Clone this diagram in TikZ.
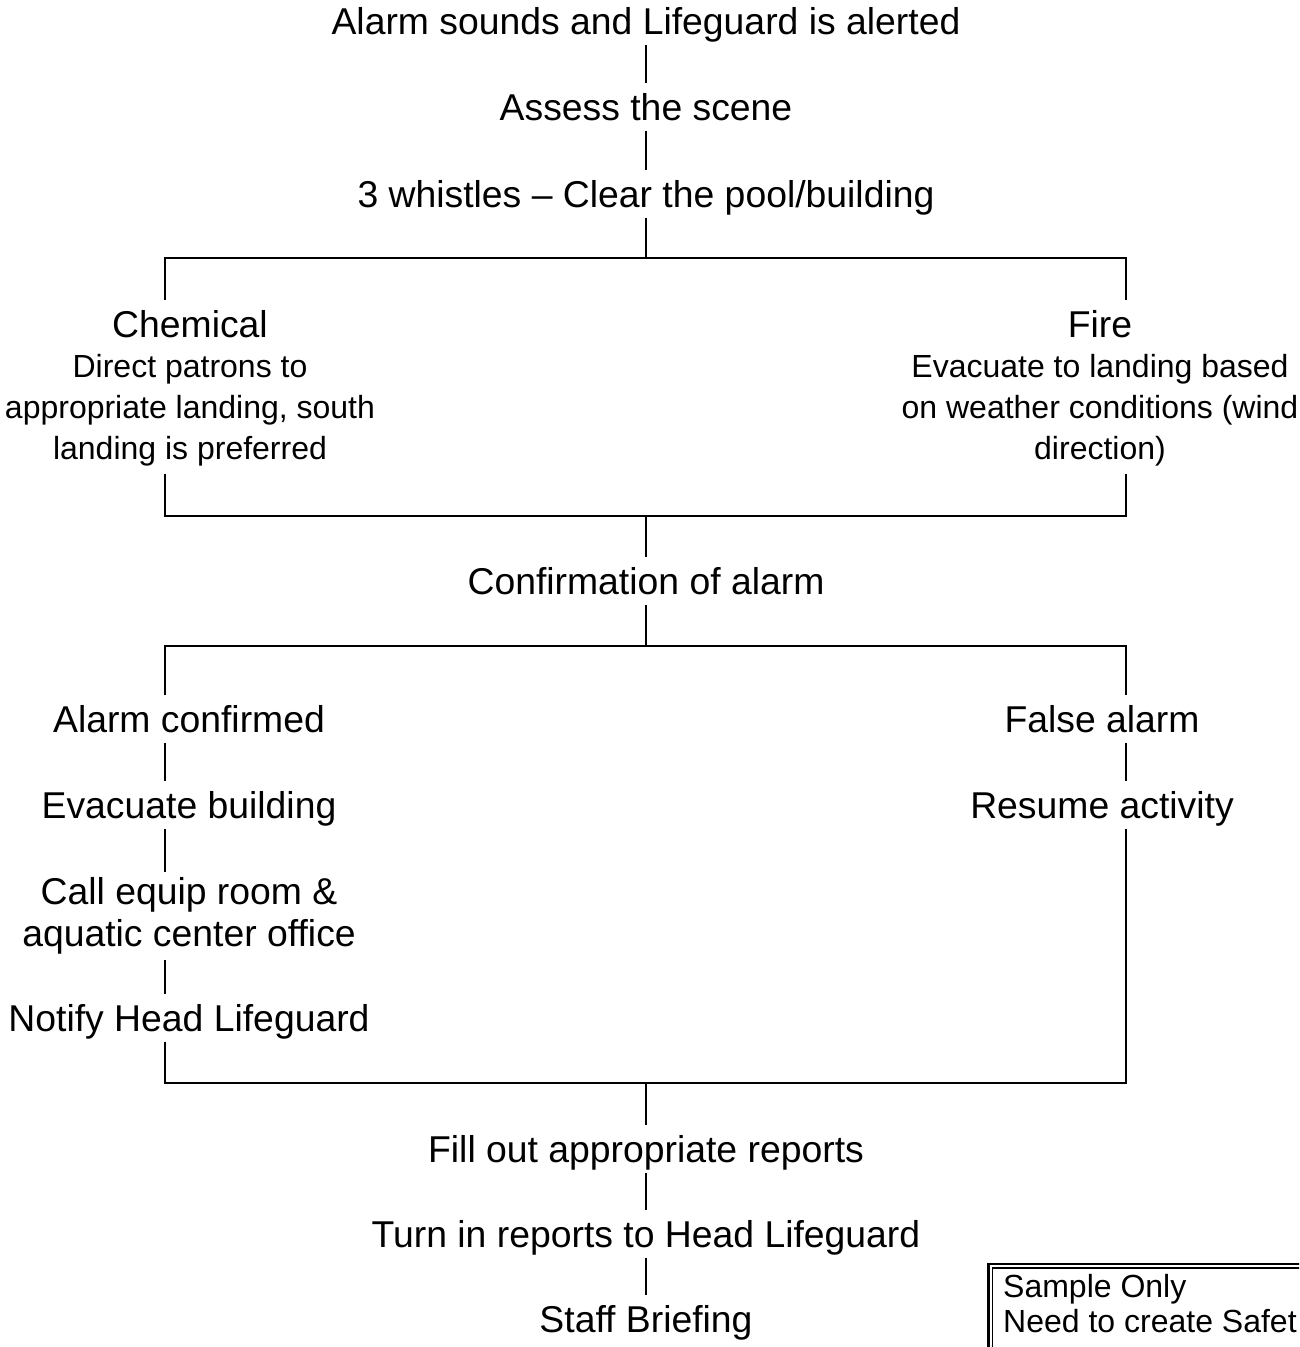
\documentclass[tikz,border=0pt]{standalone}
\usepackage{fontspec}
\setmainfont{Liberation Sans}
\usepackage{tikz}

\begin{document}
\begin{tikzpicture}[x=0.375pt,y=-0.375pt,line width=0.9pt]
\tikzstyle{stage}=[font=\fontsize{14}{15.75}\selectfont, anchor=base, inner xsep=0pt, inner ysep=3.5pt, text height=10pt, text depth=0pt]
\tikzstyle{note}=[font=\fontsize{12}{15.4}\selectfont, align=center, anchor=north, inner xsep=0pt, inner ysep=2.6pt]
\tikzstyle{stack}=[font=\fontsize{14}{15.75}\selectfont, align=center, anchor=north, inner xsep=0pt, inner ysep=1.7pt]
\tikzstyle{memo}=[font=\fontsize{12}{13.3}\selectfont, align=left, anchor=north west, inner sep=0pt]
\useasboundingbox (0,0) rectangle (1299,1347);
\clip (0,0) rectangle (1299,1347);

\node[stage] (alarm) at (646,34) {Alarm sounds and Lifeguard is alerted};
\node[stage] (assess) at (646,120) {Assess the scene};
\node[stage] (whistle) at (646,207) {3 whistles – Clear the pool/building};
\node[stage] (chem) at (190,337) {Chemical};
\node[note] (chemnote) at (190,346) {Direct patrons to\\appropriate landing, south\\landing is preferred};
\node[stage] (fire) at (1100,337) {Fire};
\node[note] (firenote) at (1100,346) {Evacuate to landing based\\on weather conditions (wind\\direction)};
\node[stage] (confirm) at (646,594) {Confirmation of alarm};
\node[stage] (yes) at (189,732) {Alarm confirmed};
\node[stage] (evac) at (189,818) {Evacuate building};
\node[stack] (call) at (189,872) {Call equip room \&\\aquatic center office};
\node[stage] (notify) at (189,1031) {Notify Head Lifeguard};
\node[stage] (false) at (1102,732) {False alarm};
\node[stage] (resume) at (1102,818) {Resume activity};
\node[stage] (fill) at (646,1162) {Fill out appropriate reports};
\node[stage] (turnin) at (646,1247) {Turn in reports to Head Lifeguard};
\node[stage] (brief) at (646,1332) {Staff Briefing};
\node[memo] (sample) at (1002,1273) {Sample Only\\Need to create Safet};

\coordinate (topL) at (165,258);
\coordinate (topR) at (1126,258);
\coordinate (midL) at (165,516);
\coordinate (midR) at (1126,516);
\coordinate (lowL) at (165,646);
\coordinate (lowR) at (1126,646);
\coordinate (botL) at (165,1083);
\coordinate (botR) at (1126,1083);

\draw (alarm) -- (assess);
\draw (assess) -- (whistle);
\draw (whistle) -- (whistle |- topL);
\draw (topL |- chem.north) -- (topL) -- (topR) -- (topR |- fire.north);
\draw (chemnote.south -| midL) -- (midL) -- (midR) -- (firenote.south -| midR);
\draw (confirm |- midL) -- (confirm);
\draw (confirm) -- (confirm |- lowL);
\draw (lowL |- yes.north) -- (lowL) -- (lowR) -- (lowR |- false.north);
\draw (lowL |- yes.south) -- (lowL |- evac.north);
\draw (lowL |- evac.south) -- (lowL |- call.north);
\draw (lowL |- call.south) -- (lowL |- notify.north);
\draw (lowR |- false.south) -- (lowR |- resume.north);
\draw (lowL |- notify.south) -- (botL) -- (botR) -- (lowR |- resume.south);
\draw (fill |- botL) -- (fill);
\draw (fill) -- (turnin);
\draw (turnin) -- (brief);

\draw[line width=1.1pt] (988.5,1360) -- (988.5,1264) -- (1310,1264);
\draw[line width=0.45pt] (992.5,1360) -- (992.5,1268) -- (1310,1268);
\end{tikzpicture}
\end{document}
